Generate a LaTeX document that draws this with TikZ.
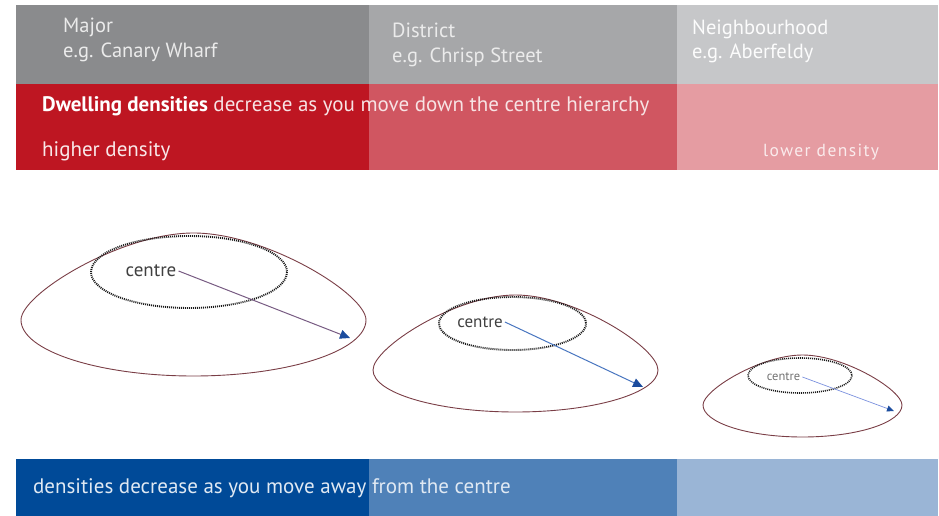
\documentclass[tikz,border=0pt]{standalone}
\usepackage{fontspec}
\setmainfont{PT Sans}
\usetikzlibrary{arrows.meta,positioning}
\definecolor{greyA}{HTML}{8A8B8D}
\definecolor{greyB}{HTML}{A6A7A9}
\definecolor{greyC}{HTML}{C6C7C9}
\definecolor{redA}{HTML}{BE1622}
\definecolor{redB}{HTML}{D05661}
\definecolor{redC}{HTML}{E59CA2}
\definecolor{blueA}{HTML}{004A98}
\definecolor{blueB}{HTML}{4F81B8}
\definecolor{blueC}{HTML}{9AB5D6}
\definecolor{rim}{HTML}{7A3E46}
\definecolor{tipblue}{HTML}{1B4C9E}
% dome outline: centre x, widest y, half width, height above, depth below
\newcommand\dome[5]{%
  \draw[rim line] ({#1-#3},#2)
    .. controls ({#1-#3},{#2-0.3*#4}) and ({#1-0.42*#3},{#2-#4}) .. (#1,{#2-#4})
    .. controls ({#1+0.42*#3},{#2-#4}) and ({#1+#3},{#2-0.3*#4}) .. ({#1+#3},#2)
    .. controls ({#1+#3},{#2+0.55*#5}) and ({#1+0.55*#3},{#2+#5}) .. (#1,{#2+#5})
    .. controls ({#1-0.55*#3},{#2+#5}) and ({#1-#3},{#2+0.55*#5}) .. cycle;}
\tikzset{
    head/.style={anchor=base west, inner sep=0pt, text=#1, font=\fontsize{20.5}{24}\selectfont},
    head/.default=white!92!black,
    note/.style={anchor=base west, inner sep=0pt, text=white, font=\fontsize{21}{24}\selectfont},
    rim line/.style={draw=rim, line width=0.9pt},
    core/.style={draw=black!90, line width=1.9pt, dash pattern=on 1pt off 1pt},
    lbl/.style={inner sep=2pt, text=black!75, font=\fontsize{#1}{#1}\selectfont},
    spread/.style={draw=#1, line width=1pt, -{Triangle[length=10pt,width=9pt,color=tipblue,fill=tipblue]}},
}
\begin{document}
\begin{tikzpicture}[x=1pt,y=-1pt]
    \useasboundingbox (0,0) rectangle (939,516);

    % hierarchy bands
    \fill[greyA] (16,5) rectangle (369,84);
    \fill[greyB] (369,5) rectangle (677,84);
    \fill[greyC] (677,5) rectangle (938,84);
    \fill[redA] (16,84) rectangle (369,170);
    \fill[redB] (369,84) rectangle (677,170);
    \fill[redC] (677,84) rectangle (938,170);
    \fill[blueA] (16,459) rectangle (369,516);
    \fill[blueB] (369,459) rectangle (677,516);
    \fill[blueC] (677,459) rectangle (938,516);

    \node[head] (major) at (63,33) {Major};
    \node[head] (majorEg) at (63,58) {e.g. Canary Wharf};
    \node[head] (district) at (392,38) {District};
    \node[head] (districtEg) at (392,63) {e.g. Chrisp Street};
    \node[head=white!95!greyC] (neigh) at (692,35) {Neighbourhood};
    \node[head=white!95!greyC] (neighEg) at (692,59) {e.g. Aberfeldy};

    \node[note] (dwelling) at (42,112) {\textbf{Dwelling densities} \textcolor{white!88!redA}{decrease as you move down the centre hierarchy}};
    \node[note, text=white!90!redA] (higher) at (42,157) {higher density};
    \node[note, text=white!80!redC, font=\fontsize{17.5}{20}\selectfont\addfontfeature{LetterSpace=8}] (lower) at (763,157) {lower density};
    \node[note, text=white!88!blueA] (away) at (33,493) {densities decrease as you move away from the centre};

    % major centre
    \dome{193.5}{320}{172.5}{87}{56}
    \draw[core] (189,272) ellipse [x radius=98, y radius=36];
    \node[lbl=19] (cMajor) at (151,271) {centre};
    \coordinate (tMajor) at (350,338);
    \draw[spread=blueA!55!redA!80!white] (cMajor.east) -- (tMajor);

    % district centre
    \dome{515.5}{370}{142.5}{75}{42}
    \draw[core] (512.5,323.5) ellipse [x radius=73.5, y radius=26.5];
    \node[lbl=17] (cDistrict) at (480,322) {centre};
    \coordinate (tDistrict) at (643,387);
    \draw[spread=blueB!90!blue] (cDistrict.east) -- (tDistrict);

    % neighbourhood centre
    \dome{802.5}{405}{99.5}{50}{32}
    \draw[core, line width=1.6pt] (800,375.5) ellipse [x radius=52, y radius=17.5];
    \node[lbl=12.5, text=black!55] (cNeigh) at (783.5,377) {centre};
    \coordinate (tNeigh) at (894,411);
    \draw[spread=blueC!80!blue, line width=0.7pt, -{Triangle[length=7pt,width=6pt,color=tipblue,fill=tipblue]}] (cNeigh.east) -- (tNeigh);
\end{tikzpicture}
\end{document}
